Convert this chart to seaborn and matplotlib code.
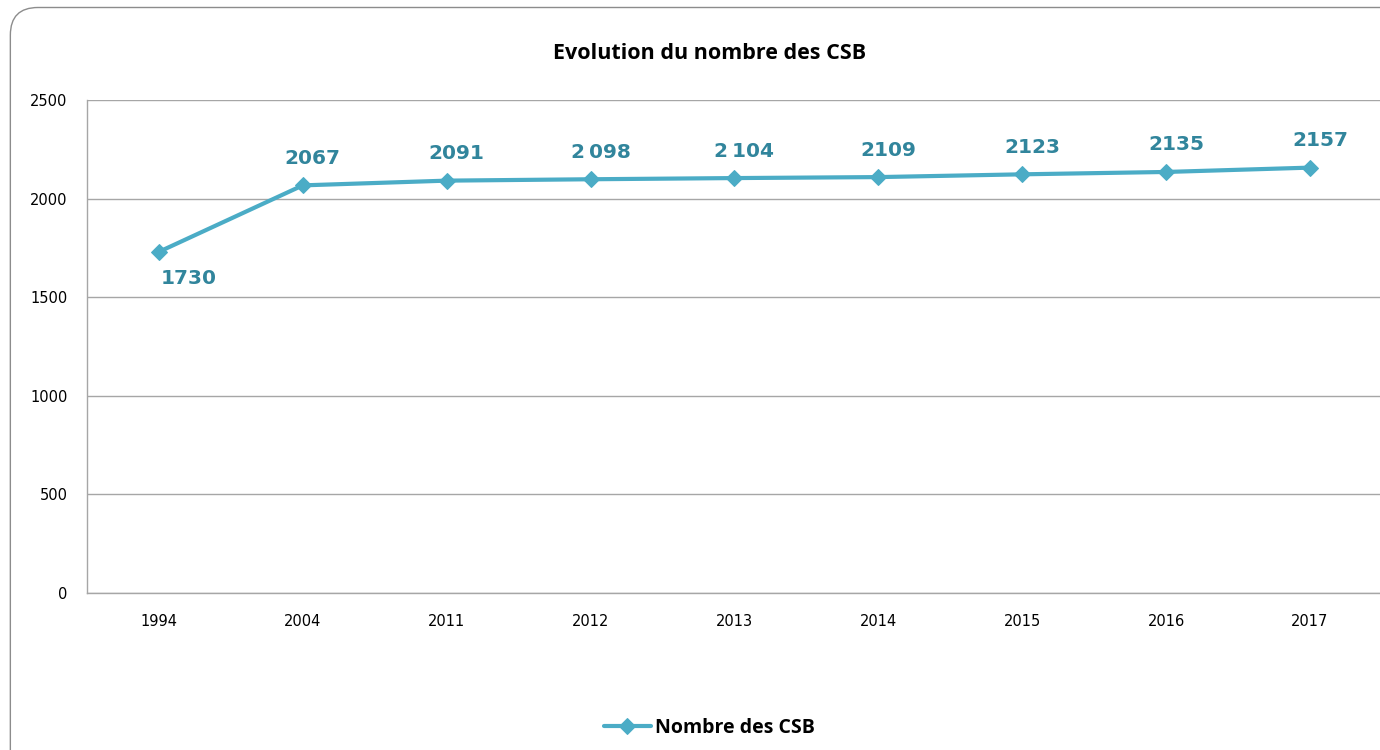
import numpy as np
import pandas as pd
import matplotlib
matplotlib.use("Agg")
import matplotlib.pyplot as plt
import seaborn as sns
from matplotlib.patches import FancyBboxPatch

# Data
annees = ['1994', '2004', '2011', '2012', '2013', '2014', '2015', '2016', '2017']
nb_csb = [1730, 2067, 2091, 2098, 2104, 2109, 2123, 2135, 2157]
etiquettes = ['1730', '2067', '2091', '2\u202f098', '2\u202f104', '2109', '2123', '2135', '2157']
y_ticks = [0, 500, 1000, 1500, 2000, 2500]

df = pd.DataFrame({'Annee': annees, 'CSB': nb_csb})

sns.set_style("white")
plt.rcParams['font.family'] = ['DejaVu Sans']
plt.rcParams['text.color'] = 'black'

line_col = '#4BACC6'
lab_col = '#31859C'
grid_col = '#a6a6a6'

fig = plt.figure(figsize=(13.8, 7.5), dpi=100)
ax = fig.add_axes([0.063, 0.2093, 0.9384, 0.6574])

# cadre arrondi autour du graphique
frame = FancyBboxPatch((0.0075, -0.05), 1.05, 1.04, boxstyle="round,pad=0,rounding_size=0.02",
                       transform=fig.transFigure, fill=False, edgecolor='#8c8c8c', linewidth=1.0,
                       mutation_aspect=1380 / 750, zorder=0)
fig.patches.append(frame)

sns.lineplot(data=df, x='Annee', y='CSB', ax=ax, color=line_col, linewidth=3,
             marker='D', markersize=8, markeredgecolor=line_col, label='Nombre des CSB',
             sort=False)

for i, (v, t) in enumerate(zip(nb_csb, etiquettes)):
    if i == 0:
        dx, dy = 30, -27
    else:
        dx, dy = 10, 27
    ax.annotate(t, (i, v), xytext=(dx, dy), textcoords='offset pixels',
                ha='center', va='center', fontsize=14.5, fontweight='bold', color=lab_col)

ax.set_xlim(-0.5, len(annees) - 0.5)
ax.set_ylim(0, 2500)
ax.set_yticks(y_ticks)
ax.yaxis.grid(True, color=grid_col, linewidth=1)
ax.xaxis.grid(False)
ax.set_axisbelow(True)
for s in ['top', 'right']:
    ax.spines[s].set_visible(False)
for s in ['left', 'bottom']:
    ax.spines[s].set_color(grid_col)
    ax.spines[s].set_linewidth(1)
ax.tick_params(axis='both', length=0, labelsize=10.5, colors='black')
ax.tick_params(axis='x', pad=15)
ax.tick_params(axis='y', pad=14)
ax.set_xlabel('')
ax.set_ylabel('')

fig.text(0.514, 0.929, 'Evolution du nombre des CSB', ha='center', va='center',
         fontsize=15.5, fontweight='bold', color='black', family=['Open Sans', 'DejaVu Sans'])

leg = ax.legend(loc='center', bbox_to_anchor=(0.514, 0.029), bbox_transform=fig.transFigure,
                frameon=False, prop={'family': 'Open Sans', 'weight': 'bold', 'size': 14},
                handlelength=2.4, handletextpad=0.2)
for txt in leg.get_texts():
    txt.set_color('black')

fig.savefig('out.png', dpi=100)
